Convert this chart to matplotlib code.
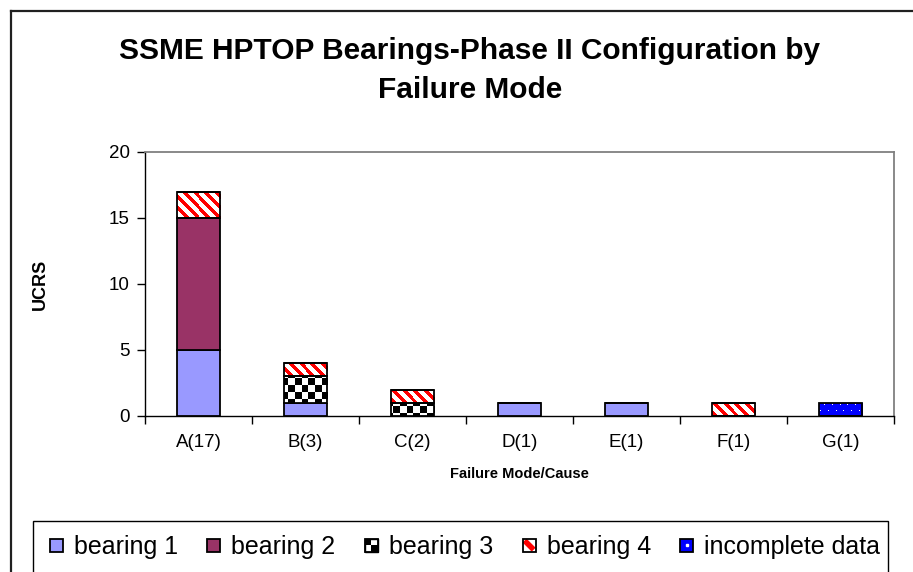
import numpy as np
import matplotlib
matplotlib.use("Agg")
import matplotlib.pyplot as plt
from matplotlib.patches import Rectangle, Patch
from matplotlib.legend_handler import HandlerPatch
from matplotlib.lines import Line2D

plt.rcParams['font.family'] = ['Liberation Sans', 'DejaVu Sans']

categories = ["A(17)", "B(3)", "C(2)", "D(1)", "E(1)", "F(1)", "G(1)"]
bearing1 = [5, 1, 0, 1, 1, 0, 0]
bearing2 = [10, 0, 0, 0, 0, 0, 0]
bearing3 = [0, 2, 1, 0, 0, 0, 0]
bearing4 = [2, 1, 1, 0, 0, 1, 0]
incomplete = [0, 0, 0, 0, 0, 0, 1]
series_names = ["bearing 1", "bearing 2", "bearing 3", "bearing 4", "incomplete data"]
yticks = [0, 5, 10, 15, 20]

W, H = 913, 572
fig = plt.figure(figsize=(W / 100, H / 100), dpi=100)
fig.patch.set_facecolor('white')

def fx(px):
    return px / W

def fy(py):
    return 1 - py / H

ax = fig.add_axes([fx(145), fy(416), fx(894) - fx(145), fy(152) - fy(416)])
x = np.arange(len(categories))
ax.set_xlim(-0.5, len(categories) - 0.5)
ax.set_ylim(0, 20)
bw = 0.41

# pattern generators (pixel grids in display coords: X right, Yd down)
def checker(X, Yd):
    c = 7
    v = ((X // c) + (Yd // c)) % 2
    img = np.ones(X.shape + (3,))
    img[v == 0] = 0
    return img

def stripes(X, Yd):
    v = ((X - Yd) % 11) < 5
    img = np.ones(X.shape + (3,))
    img[v] = [1, 0, 0]
    return img

def dots(X, Yd):
    img = np.zeros(X.shape + (3,))
    img[:] = [0, 0, 1]
    row = Yd // 6
    v = ((Yd % 6) == 2) & (((X + (row % 2) * 4) % 8) == 3)
    img[v] = [1, 1, 1]
    return img

def draw_series(vals, bottoms, color=None, pattern=None):
    if pattern is None:
        bars = ax.bar(x, vals, bw, bottom=bottoms, color=color, edgecolor='black',
                      linewidth=1.3, zorder=3)
        return bars
    bars = ax.bar(x, vals, bw, bottom=bottoms, facecolor='none', edgecolor='black',
                  linewidth=1.3, zorder=4)
    for b, v in zip(bars, vals):
        if v == 0:
            continue
        x0, y0 = b.get_x(), b.get_y()
        x1, y1 = x0 + b.get_width(), y0 + b.get_height()
        (dx0, dy0), (dx1, dy1) = ax.transData.transform([(x0, y0), (x1, y1)])
        c0, c1 = int(np.floor(dx0)), int(np.ceil(dx1))
        r_top = int(np.floor(H - dy1))
        r_bot = int(np.ceil(H - dy0))
        X, Yd = np.meshgrid(np.arange(c0, c1), np.arange(r_top, r_bot))
        img = pattern(X, Yd)
        im = ax.imshow(img, extent=(x0, x1, y0, y1), origin='upper',
                       interpolation='nearest', aspect='auto', zorder=3)
        im.set_clip_path(b)
    return bars

b1 = np.array(bearing1)
b2 = np.array(bearing2)
b3 = np.array(bearing3)
b4 = np.array(bearing4)
inc = np.array(incomplete)

draw_series(b1, 0, color='#9999FF')
draw_series(b2, b1, color='#993366')
draw_series(b3, b1 + b2, pattern=checker)
draw_series(b4, b1 + b2 + b3, pattern=stripes)
draw_series(inc, b1 + b2 + b3 + b4, pattern=dots)

ax.set_xlim(-0.5, len(categories) - 0.5)
ax.set_ylim(0, 20)

ax.set_yticks(yticks)
ax.set_yticklabels([str(t) for t in yticks], fontsize=13.5)
ax.set_xticks(x)
ax.set_xticklabels(categories, fontsize=13.5)
ax.set_xticks(np.arange(len(categories) + 1) - 0.5, minor=True)
ax.tick_params(axis='x', which='major', length=0, pad=13)
ax.tick_params(axis='x', which='minor', length=6, width=1, direction='out')
ax.tick_params(axis='y', length=6, width=1, direction='out', pad=5)

for s in ['top', 'right']:
    ax.spines[s].set_color('#808080')
    ax.spines[s].set_linewidth(1.3)
for s in ['left', 'bottom']:
    ax.spines[s].set_color('black')
    ax.spines[s].set_linewidth(1.0)

ax.set_xlabel("Failure Mode/Cause", fontsize=10.5, fontweight='bold')
ax.set_ylabel("UCRS", fontsize=13, fontweight='bold')
ax.yaxis.set_label_coords((49 - 145) / (894 - 145), 0.5)
ax.xaxis.set_label_coords(0.5, -(467 - 416) / (416 - 152))

fig.text(fx(470), fy(51), "SSME HPTOP Bearings-Phase II Configuration by",
         ha='center', va='center', fontsize=21.5, fontweight='bold')
fig.text(fx(470), fy(90), "Failure Mode", ha='center', va='center',
         fontsize=21.5, fontweight='bold')

# outer chart border (left and top visible)
fig.add_artist(Line2D([fx(11), fx(11)], [fy(11), fy(575)], color='#202020', lw=1.6))
fig.add_artist(Line2D([fx(11), fx(915)], [fy(11), fy(11)], color='#202020', lw=1.6))

# legend box
fig.add_artist(Rectangle((fx(33), fy(585)), fx(888) - fx(33), fy(521) - fy(585),
                         transform=fig.transFigure, facecolor='none',
                         edgecolor='black', lw=1.0))


class CheckerHandler(HandlerPatch):
    def create_artists(self, legend, orig_handle, xdescent, ydescent, width, height,
                       fontsize, trans):
        s = min(width, height)
        x0, y0 = -xdescent + (width - s) / 2, -ydescent + (height - s) / 2
        arts = [Rectangle((x0, y0), s, s, facecolor='white', edgecolor='black', lw=1, transform=trans)]
        h = s / 2
        arts.append(Rectangle((x0, y0 + h), h, h, facecolor='black', edgecolor='none', transform=trans))
        arts.append(Rectangle((x0 + h, y0), h, h, facecolor='black', edgecolor='none', transform=trans))
        arts.append(Rectangle((x0, y0), s, s, facecolor='none', edgecolor='black', lw=1.3, transform=trans))
        return arts


class StripeHandler(HandlerPatch):
    def create_artists(self, legend, orig_handle, xdescent, ydescent, width, height,
                       fontsize, trans):
        s = min(width, height)
        x0, y0 = -xdescent + (width - s) / 2, -ydescent + (height - s) / 2
        arts = [Rectangle((x0, y0), s, s, facecolor='white', edgecolor='none', transform=trans)]
        arts.append(Line2D([x0 + 0.15 * s, x0 + 0.85 * s], [y0 + 0.85 * s, y0 + 0.15 * s],
                           color='red', lw=4, transform=trans, solid_capstyle='butt'))
        arts.append(Rectangle((x0, y0), s, s, facecolor='none', edgecolor='black', lw=1.3, transform=trans))
        return arts


class SquareHandler(HandlerPatch):
    def create_artists(self, legend, orig_handle, xdescent, ydescent, width, height,
                       fontsize, trans):
        s = min(width, height)
        x0, y0 = -xdescent + (width - s) / 2, -ydescent + (height - s) / 2
        arts = [Rectangle((x0, y0), s, s, facecolor=orig_handle.get_facecolor(),
                          edgecolor='black', lw=1.3, transform=trans)]
        if orig_handle.get_label() == 'dots':
            arts.append(Line2D([x0 + s / 2], [y0 + s / 2], marker='s', ms=1.5,
                               color='white', lw=0, transform=trans))
        return arts


h1 = Patch(facecolor='#9999FF')
h2 = Patch(facecolor='#993366')
h3 = Patch(facecolor='white')
h4 = Patch(facecolor='white')
h5 = Patch(facecolor='#0000FF', label='dots')
leg = fig.legend([h1, h2, h3, h4, h5], series_names, ncol=5, frameon=False,
                 loc='center', bbox_to_anchor=(fx(465), fy(547)), fontsize=18,
                 handlelength=0.52, handleheight=0.52, handletextpad=0.44,
                 columnspacing=1.18, borderpad=0, borderaxespad=0,
                 handler_map={h1: SquareHandler(), h2: SquareHandler(), h3: CheckerHandler(),
                              h4: StripeHandler(), h5: SquareHandler()})

fig.savefig("out.png", dpi=100, facecolor='white')
